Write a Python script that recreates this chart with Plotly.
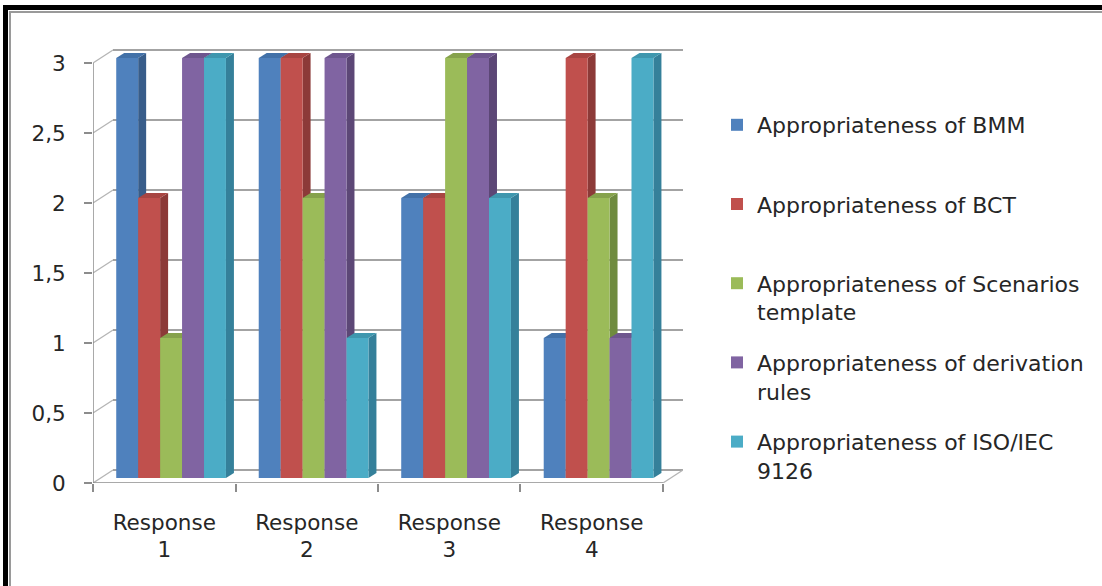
import plotly.graph_objects as go

# ---------------- data ----------------
categories = ["Response<br>1", "Response<br>2", "Response<br>3", "Response<br>4"]
series_names = [
    "Appropriateness of BMM",
    "Appropriateness of BCT",
    "Appropriateness of Scenarios<br>template",
    "Appropriateness of derivation<br>rules",
    "Appropriateness of ISO/IEC<br>9126",
]
bmm = [3, 3, 2, 1]
bct = [2, 3, 2, 3]
scenarios = [1, 2, 3, 2]
derivation = [3, 3, 3, 1]
iso = [3, 1, 2, 3]
y_ticks = [0, 0.5, 1, 1.5, 2, 2.5, 3]
y_tick_labels = ["0", "0,5", "1", "1,5", "2", "2,5", "3"]

series_values = [bmm, bct, scenarios, derivation, iso]

# ---------------- styles ----------------
front_colors = ["#4F81BD", "#C0504D", "#9BBB59", "#8064A2", "#4BACC6"]
side_colors = ["#385D8A", "#8C3A38", "#6F8B3F", "#5C4776", "#35809A"]
top_colors = ["#4271A8", "#A84542", "#86A24C", "#6E568E", "#3F97AE"]

FONT = "DejaVu Sans"
FS = 21.5
TXT = "#262626"
AXIS_COL = "#8c8c8c"
GRID_COL = "#a3a3a3"

# 3D look constants (data units)
WALL_DX = 0.1404   # depth offset of back wall (x)
WALL_DY = 0.093    # depth offset of back wall (y)
GROUP_OFF = 0.163  # first bar offset inside a category
BAR_W = 0.154
BASE = 0.036       # bar plane lift
DDX = 0.056        # bar depth (x)
DDY = 0.036        # bar depth (y)

# pixel layout
PL, PR, PT, PB = 93, 683, 49, 483
W, H = 1102, 586
n_cat = len(categories)


def px(x):
    return (x - PL) / (PR - PL)


def py(y):
    return (PB - y) / (PB - PT)


fig = go.Figure()
shapes = []

# back-wall gridlines with perspective stubs
for v in y_ticks:
    shapes.append(dict(type="line", xref="x", yref="y", x0=0, y0=v, x1=WALL_DX, y1=v + WALL_DY,
                       line=dict(color="#b5b5b5", width=1.3), layer="below"))
    shapes.append(dict(type="line", xref="x", yref="y", x0=WALL_DX, y0=v + WALL_DY,
                       x1=n_cat + WALL_DX, y1=v + WALL_DY,
                       line=dict(color=GRID_COL, width=1.8), layer="below"))

# floor front edge + right diagonal, value axis line
shapes.append(dict(type="line", xref="x", yref="y", x0=0, y0=0, x1=n_cat, y1=0,
                   line=dict(color=AXIS_COL, width=1.5), layer="below"))
shapes.append(dict(type="line", xref="x", yref="y", x0=n_cat, y0=0, x1=n_cat + WALL_DX, y1=WALL_DY,
                   line=dict(color="#b5b5b5", width=1.3), layer="below"))
shapes.append(dict(type="line", xref="x", yref="y", x0=0, y0=0, x1=0, y1=max(y_ticks),
                   line=dict(color=AXIS_COL, width=1.5), layer="below"))

# bars: front faces as traces, side/top faces as shapes derived from values
for j, (name, vals) in enumerate(zip(series_names, series_values)):
    xs = [k + GROUP_OFF + (j + 0.5) * BAR_W for k in range(n_cat)]
    for xc, v in zip(xs, vals):
        l, r = xc - BAR_W / 2, xc + BAR_W / 2
        b, t = BASE, BASE + v
        shapes.append(dict(type="path", xref="x", yref="y",
                           path=f"M{r},{b} L{r + DDX},{b + DDY} L{r + DDX},{t + DDY} L{r},{t} Z",
                           fillcolor=side_colors[j], line=dict(width=0), layer="below"))
        shapes.append(dict(type="path", xref="x", yref="y",
                           path=f"M{l},{t} L{r},{t} L{r + DDX},{t + DDY} L{l + DDX},{t + DDY} Z",
                           fillcolor=top_colors[j], line=dict(width=0), layer="below"))
    label = name if "<br>" in name else name + "<br>\u00a0"
    fig.add_trace(go.Bar(
        x=xs, y=vals, base=BASE, width=BAR_W, name=label,
        marker=dict(color=front_colors[j], line=dict(width=0)),
        legendgroup=f"g{j}", showlegend=True,
    ))

# outer frame (decoration)
shapes.append(dict(type="rect", xref="paper", yref="paper", x0=px(3), x1=px(W), y0=py(5), y1=py(10),
                   fillcolor="black", line=dict(width=0)))
shapes.append(dict(type="rect", xref="paper", yref="paper", x0=px(3), x1=px(8), y0=py(5), y1=py(H),
                   fillcolor="black", line=dict(width=0)))
shapes.append(dict(type="line", xref="paper", yref="paper", x0=px(9), x1=px(W), y0=py(12), y1=py(12),
                   line=dict(color="#9a9a9a", width=2)))
shapes.append(dict(type="line", xref="paper", yref="paper", x0=px(10), x1=px(10), y0=py(11), y1=py(H),
                   line=dict(color="#9a9a9a", width=2)))

fig.update_layout(
    width=W, height=H,
    margin=dict(l=PL, r=W - PR, t=PT, b=H - PB, pad=0),
    paper_bgcolor="white", plot_bgcolor="rgba(0,0,0,0)",
    barmode="overlay",
    font=dict(family=FONT, size=FS, color=TXT),
    shapes=shapes,
    showlegend=True,
    legend=dict(x=px(717), xanchor="left", y=py(104), yanchor="top",
                font=dict(family=FONT, size=22, color=TXT),
                bgcolor="rgba(0,0,0,0)", tracegroupgap=19, itemwidth=30,
                valign="top", traceorder="grouped"),
    xaxis=dict(range=[0, n_cat + WALL_DX], tickmode="array",
               tickvals=[k + 0.5 for k in range(n_cat)], ticktext=categories,
               ticks="", showgrid=False, zeroline=False, showline=False,
               ticklabelstandoff=24,
               minor=dict(tickmode="array", tickvals=list(range(n_cat + 1)), ticks="outside",
                          ticklen=8, tickcolor=AXIS_COL, tickwidth=1.5, showgrid=False),
               tickfont=dict(family=FONT, size=FS, color=TXT), fixedrange=True),
    yaxis=dict(range=[0, 3.1], tickmode="array", tickvals=y_ticks, ticktext=y_tick_labels,
               ticks="outside", ticklen=8, tickcolor=AXIS_COL, tickwidth=1.5,
               showgrid=False, zeroline=False, showline=False, ticklabelstandoff=14,
               tickfont=dict(family=FONT, size=FS, color=TXT), fixedrange=True),
)

fig.write_html("out.html", config={"displayModeBar": False},
               post_script="document.body.style.margin='0';")
